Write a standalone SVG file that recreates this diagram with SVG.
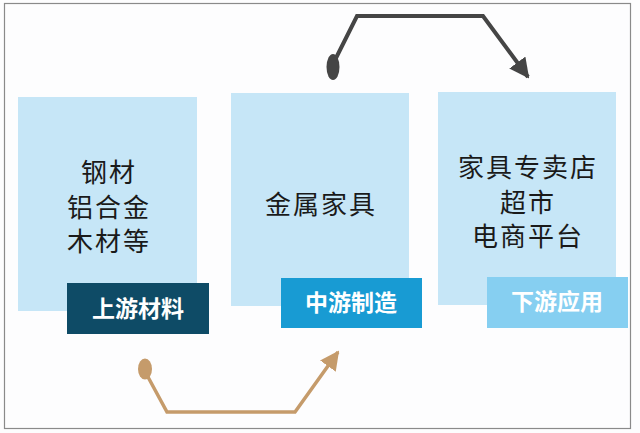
<svg xmlns="http://www.w3.org/2000/svg" width="640" height="433" viewBox="0 0 640 433">
<defs>
<style>
.box{fill:#c6e6f7}
.t{font-family:"Noto Sans CJK SC","Noto Sans CJK JP",sans-serif;font-size:26px;letter-spacing:2px;fill:#1a1a1a;text-anchor:middle}
.lb{font-family:"Noto Sans CJK SC","Noto Sans CJK JP",sans-serif;font-size:23px;font-weight:bold;fill:#ffffff;text-anchor:middle}
.dark{fill:none;stroke:#454545;stroke-width:4;stroke-linejoin:miter}
.tan{fill:none;stroke:#c59b6b;stroke-width:3.5;stroke-linejoin:miter}
</style>
<marker id="ahDark" viewBox="0 0 10 10" refX="9" refY="5" markerWidth="5" markerHeight="5" orient="auto" markerUnits="strokeWidth">
<path d="M0,0 L10,5 L0,10 Z" fill="#454545"/>
</marker>
<marker id="ahTan" viewBox="0 0 10 10" refX="9" refY="5" markerWidth="5.5" markerHeight="5.5" orient="auto" markerUnits="strokeWidth">
<path d="M0,0 L10,5 L0,10 Z" fill="#c59b6b"/>
</marker>
</defs>
<rect x="0" y="0" width="640" height="433" fill="#fdfdfe"/>
<rect x="4.5" y="3.5" width="626" height="425" fill="#fdfdfe" stroke="#8a8a8a" stroke-width="1.2"/>

<g id="node-upstream">
<rect class="box" x="18" y="97" width="179" height="214"/>
<text class="t" x="109" y="182">钢材</text>
<text class="t" x="109" y="217">铝合金</text>
<text class="t" x="109" y="251">木材等</text>
<rect x="67" y="283" width="142" height="51" fill="#0e4b66"/>
<text class="lb" x="138" y="317">上游材料</text>
</g>

<g id="node-midstream">
<rect class="box" x="231" y="93" width="178" height="213"/>
<text class="t" x="321" y="214">金属家具</text>
<rect x="281" y="278" width="141" height="50" fill="#189bd3"/>
<text class="lb" x="351" y="311">中游制造</text>
</g>

<g id="node-downstream">
<rect class="box" x="438" y="92" width="178" height="213"/>
<text class="t" x="528" y="177">家具专卖店</text>
<text class="t" x="528" y="212">超市</text>
<text class="t" x="528" y="246">电商平台</text>
<rect x="487" y="277" width="141" height="51" fill="#86cff1"/>
<text class="lb" x="557" y="310">下游应用</text>
</g>

<g id="connectors">
<ellipse cx="333" cy="67" rx="6.5" ry="13" fill="#454545"/>
<polyline class="dark" points="335,60 357,16 483,16 528,77" marker-end="url(#ahDark)"/>
<ellipse cx="145" cy="369" rx="7" ry="10.5" fill="#c59b6b"/>
<polyline class="tan" points="148,377 167,412 295,412 338,352" marker-end="url(#ahTan)"/>
</g>
</svg>
